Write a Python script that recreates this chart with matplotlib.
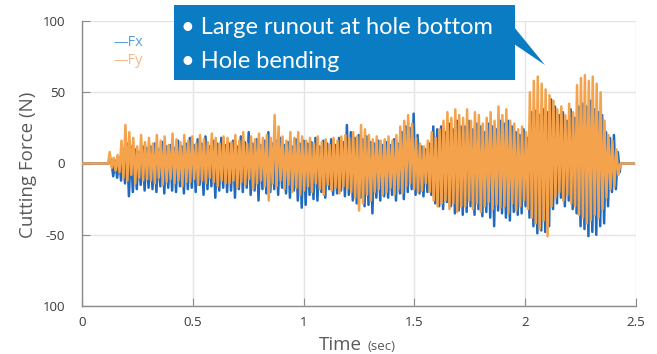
import numpy as np
import matplotlib
matplotlib.use("Agg")
import matplotlib.pyplot as plt
from matplotlib.patches import Rectangle, Polygon

# ---- data (per oscillation cycle: peak, trough) ----
lead_in_time = [0.0, 0.118]
lead_out_time = [2.43, 2.49]
fy_cycle_start, fy_cycle_end = 0.125, 2.42
fx_cycle_start, fx_cycle_end = 0.132, 2.427

fy_peaks = [8, 4, 6, 16, 27, 22, 18, 12, 20, 15,
            18, 14, 20, 16, 19, 13, 21, 17, 15, 20,
            16, 19, 14, 20, 17, 15, 21, 18, 14, 19,
            18, 15, 20, 16, 22, 14, 19, 17, 21, 18,
            20, 18, 34, 26, 19, 16, 22, 18, 22, 19,
            16, 18, 14, 19, 15, 17, 13, 18, 16, 19,
            20, 18, 22, 19, 27, 24, 20, 17, 19, 16,
            17, 19, 16, 20, 26, 30, 34, 28, 18, 14,
            12, 16, 22, 18, 24, 30, 36, 32, 38, 34,
            32, 38, 30, 36, 34, 28, 32, 36, 30, 40,
            34, 38, 30, 28, 24, 26, 22, 50, 58, 61,
            56, 52, 48, 44, 38, 40, 34, 42, 36, 55,
            60, 62, 58, 61, 56, 50, 30, 20, 16, 10]
fy_troughs = [-3, -5, -6, -10, -12, -8, -14, -10, -12, -11,
              -12, -14, -10, -15, -13, -11, -14, -12, -16, -13,
              -13, -11, -15, -12, -14, -10, -13, -16, -12, -14,
              -14, -12, -17, -13, -15, -11, -18, -14, -12, -16,
              -26, -14, -16, -12, -18, -15, -20, -17, -22, -19,
              -16, -20, -14, -18, -22, -15, -19, -17, -21, -16,
              -18, -20, -24, -33, -28, -22, -26, -20, -18, -22,
              -20, -17, -22, -18, -21, -16, -14, -18, -20, -19,
              -14, -20, -26, -30, -28, -26, -32, -28, -34, -30,
              -30, -26, -32, -28, -34, -30, -27, -32, -29, -31,
              -30, -35, -28, -33, -30, -26, -32, -38, -42, -46,
              -40, -51, -30, -24, -20, -26, -22, -28, -30, -36,
              -38, -42, -40, -36, -38, -32, -24, -18, -16, -8]
fx_peaks = [3, 2, 4, 10, 14, 12, 10, 8, 12, 11,
            12, 14, 10, 15, 12, 13, 11, 16, 12, 14,
            18, 13, 17, 14, 19, 12, 16, 14, 18, 13,
            14, 16, 12, 19, 15, 22, 14, 17, 13, 16,
            22, 14, 16, 18, 13, 15, 12, 17, 14, 16,
            14, 15, 18, 12, 16, 14, 17, 13, 18, 15,
            27, 22, 18, 20, 17, 19, 15, 14, 16, 13,
            15, 13, 17, 14, 22, 26, 25, 35, 20, 12,
            10, 14, 26, 24, 26, 22, 28, 24, 30, 26,
            26, 30, 24, 28, 26, 22, 28, 26, 24, 30,
            28, 30, 26, 22, 20, 24, 18, 36, 37, 34,
            38, 36, 45, 40, 34, 36, 30, 38, 32, 40,
            42, 40, 44, 38, 36, 34, 22, 18, 20, 8]
fx_troughs = [-9, -10, -12, -14, -23, -20, -18, -15, -19, -17,
              -18, -20, -16, -21, -17, -19, -20, -16, -21, -18,
              -17, -20, -15, -22, -18, -16, -24, -19, -17, -20,
              -19, -24, -18, -20, -17, -22, -19, -26, -18, -21,
              -20, -18, -22, -17, -21, -24, -19, -26, -31, -29,
              -22, -25, -26, -20, -24, -18, -22, -21, -19, -23,
              -22, -26, -28, -24, -30, -29, -35, -24, -26, -23,
              -24, -22, -26, -21, -25, -20, -18, -22, -21, -23,
              -20, -22, -28, -30, -32, -27, -30, -35, -33, -36,
              -34, -30, -36, -32, -37, -34, -38, -44, -33, -35,
              -38, -40, -34, -36, -35, -30, -38, -44, -49, -47,
              -48, -44, -32, -28, -24, -30, -26, -32, -35, -44,
              -46, -51, -48, -50, -44, -42, -30, -20, -18, -6]

x_ticks = [0, 0.5, 1, 1.5, 2, 2.5]
x_tick_labels = ["0", "0.5", "1", "1.5", "2", "2.5"]
y_ticks = [100, 50, 0, -50, -100]
y_tick_labels = ["100", "50", "0", "-50", "100"]

# ---- build series ----
def interleave(peaks, troughs):
    out = []
    for p, q in zip(peaks, troughs):
        out += [p, q]
    return out

n_pts = 2 * len(fy_peaks)
t_fy = np.concatenate([lead_in_time, np.linspace(fy_cycle_start, fy_cycle_end, n_pts), lead_out_time])
t_fx = np.concatenate([lead_in_time, np.linspace(fx_cycle_start, fx_cycle_end, n_pts), lead_out_time])
fx = np.concatenate([[0, 0], interleave(fx_peaks, fx_troughs), [0, 0]])
fy = np.concatenate([[0, 0], interleave(fy_peaks, fy_troughs), [0, 0]])

W, H = 657, 354
fig = plt.figure(figsize=(W / 100, H / 100), dpi=100)
fig.patch.set_facecolor("white")
ax = fig.add_axes([82 / W, (H - 306) / H, (636 - 82) / W, (306 - 21) / H])

blue = "#2069bd"
orange = "#f4a24c"
ax.plot(t_fx, fx, color=blue, lw=1.8, zorder=3)
ax.plot(t_fy, fy, color=orange, lw=1.8, zorder=4)

ax.set_xlim(0, 2.5)
ax.set_ylim(-100, 100)
ax.set_xticks(x_ticks)
ax.set_xticklabels(x_tick_labels)
ax.set_yticks(y_ticks)
ax.set_yticklabels(y_tick_labels)
ax.grid(True, color="#e4e4e4", lw=1.0, zorder=0)
for s in ["top", "right"]:
    ax.spines[s].set_visible(False)
for s in ["left", "bottom"]:
    ax.spines[s].set_color("#8c8c8c")
    ax.spines[s].set_linewidth(1.0)
ax.tick_params(axis="both", direction="in", length=6, color="#8c8c8c",
               labelcolor="#3a3a3a", labelsize=9.5)
for lab in ax.get_xticklabels() + ax.get_yticklabels():
    lab.set_family("Open Sans")
ax.tick_params(axis="y", pad=12)
ax.tick_params(axis="x", pad=7)

# axis labels
fig.text(28 / W, 1 - 165 / H, "Cutting Force (N)", rotation=90, ha="center",
         va="center", fontsize=13.5, color="#5a5a5a", family="Open Sans")
fig.text(340 / W, 1 - 345 / H, "Time", ha="center", va="center",
         fontsize=13.5, color="#5a5a5a", family="Open Sans")
fig.text(368 / W, 1 - 347 / H, "(sec)", ha="left", va="center",
         fontsize=9.5, color="#5a5a5a", family="Open Sans")

# legend (text-like)
fig.text(113 / W, 1 - 42 / H, "\u2014Fx", ha="left", va="center",
         fontsize=10.5, color="#5b9fd8", family="Open Sans")
fig.text(113 / W, 1 - 61 / H, "\u2014Fy", ha="left", va="center",
         fontsize=10.5, color="#f5b886", family="Open Sans")

# callout box
box_blue = "#0a7cc4"
def fx_(x):
    return x / W
def fy_(y):
    return 1 - y / H
fig.patches.append(Rectangle((fx_(174), fy_(80)), (515 - 174) / W, (80 - 5) / H,
                             transform=fig.transFigure, facecolor=box_blue,
                             edgecolor="none", zorder=10))
fig.patches.append(Polygon([(fx_(514), fy_(27)), (fx_(545), fy_(65)), (fx_(514), fy_(44))],
                           closed=True, transform=fig.transFigure,
                           facecolor=box_blue, edgecolor="none", zorder=10))
fig.text(fx_(181), fy_(27), "\u2022 Large runout at hole bottom", ha="left",
         va="center", fontsize=17, color="white", family="Lato",
         fontweight="normal", zorder=11)
fig.text(fx_(181), fy_(61), "\u2022 Hole bending", ha="left",
         va="center", fontsize=17, color="white", family="Lato",
         fontweight="normal", zorder=11)

fig.savefig("out.png", dpi=100, facecolor="white")
